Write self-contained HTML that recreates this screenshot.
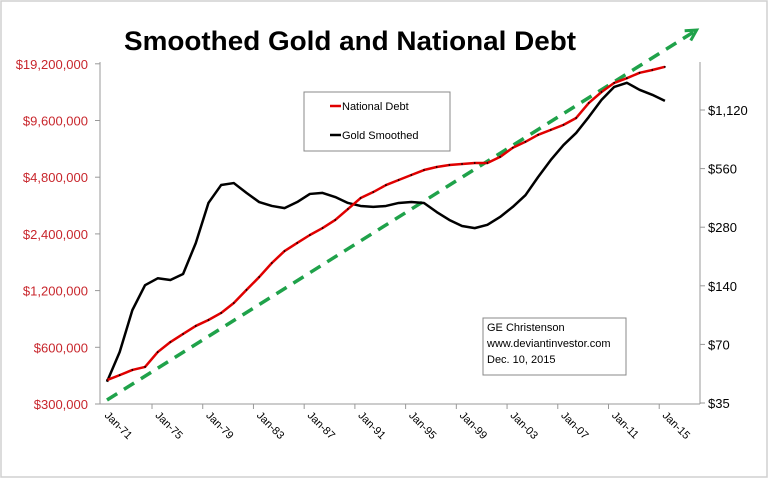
<!DOCTYPE html>
<html><head><meta charset="utf-8"><style>
html,body{margin:0;padding:0;background:#fff}
svg{display:block;font-family:"Liberation Sans",sans-serif}
</style></head><body>
<svg id="chart" width="768" height="479" viewBox="0 0 768 479" xmlns="http://www.w3.org/2000/svg">
<rect x="1" y="1" width="766" height="476" fill="#fff" stroke="#d0d0d0" stroke-width="1.5"/>
<text x="350" y="50" text-anchor="middle" font-size="27" font-weight="bold" textLength="452" lengthAdjust="spacingAndGlyphs">Smoothed Gold and National Debt</text>
<g id="axes"></g>
<g id="marks"></g>
<g>
<rect x="304" y="92" width="146" height="59" fill="#fff" stroke="#888" stroke-width="1"/>
<line x1="330" y1="106" x2="341" y2="106" stroke="#e00000" stroke-width="2.5"/>
<text x="342" y="110" font-size="11">National Debt</text>
<line x1="330" y1="135" x2="341" y2="135" stroke="#000" stroke-width="2.5"/>
<text x="342" y="139" font-size="11">Gold Smoothed</text>
</g>
<g>
<rect x="483" y="318" width="143" height="57" fill="#fff" stroke="#888" stroke-width="1"/>
<text x="487" y="331" font-size="11">GE Christenson</text>
<text x="487" y="347" font-size="11">www.deviantinvestor.com</text>
<text x="487" y="363" font-size="11">Dec. 10, 2015</text>
</g>
</svg>
<script>
const years = [];
for (let y = 1971; y <= 2015; y++) years.push(y);
const debtValues = [402000,427000,455000,472000,566000,640000,706000,779000,838000,913000,1031000,1210000,1416000,1682000,1946000,2148000,2368000,2578000,2845000,3253000,3722000,4003000,4360000,4640000,4930000,5240000,5437000,5570000,5640000,5710000,5710000,6150000,6880000,7400000,8060000,8560000,9100000,9900000,11900000,13600000,15200000,16100000,17200000,17800000,18500000];
const goldValues = [45,64,105,141,153,150,161,232,373,461,472,420,377,360,351,377,415,420,400,373,360,356,360,373,377,373,335,305,284,277,288,316,356,409,507,620,740,854,1032,1262,1472,1545,1422,1341,1248];
const trendYears = [1971, 2017.5];
const trendValues = [315000, 29000000];
const leftTicks = [300000,600000,1200000,2400000,4800000,9600000,19200000];
const leftTickLabels = ["$300,000","$600,000","$1,200,000","$2,400,000","$4,800,000","$9,600,000","$19,200,000"];
const rightTicks = [35,70,140,280,560,1120];
const rightTickLabels = ["$35","$70","$140","$280","$560","$1,120"];
const xLabelYears = [1971,1975,1979,1983,1987,1991,1995,1999,2003,2007,2011,2015];
const xLabels = ["Jan-71","Jan-75","Jan-79","Jan-83","Jan-87","Jan-91","Jan-95","Jan-99","Jan-03","Jan-07","Jan-11","Jan-15"];

const NS = "http://www.w3.org/2000/svg";
const xS = y => 107 + (y - 1971) * 12.68;
const yL = v => 404 - 56.7 * Math.log2(v / 300000);
const yR = v => 403 - 58.6 * Math.log2(v / 35);
function mk(tag, attrs, parent) {
  const e = document.createElementNS(NS, tag);
  for (const k in attrs) e.setAttribute(k, attrs[k]);
  parent.appendChild(e);
  return e;
}
const axes = document.getElementById('axes');
const marks = document.getElementById('marks');

const la = mk('line', {x1:100,y1:62,x2:100,y2:404,stroke:'#999','stroke-width':1}, axes);


const ra = mk('line', {x1:700,y1:62,x2:700,y2:404,stroke:'#999','stroke-width':1}, axes);


const xa = mk('line', {x1:100,y1:404,x2:700,y2:404,stroke:'#999','stroke-width':1}, axes);



leftTicks.forEach((v, i) => {
  const y = yL(v);
  mk('line', {x1:95,y1:y,x2:100,y2:y,stroke:'#999'}, axes);
  const t = mk('text', {x:88,y:y+5,'text-anchor':'end','font-size':13,fill:'#c8262c'}, axes);
  t.textContent = leftTickLabels[i];
  
  
});
rightTicks.forEach((v, i) => {
  const y = yR(v);
  mk('line', {x1:700,y1:y,x2:705,y2:y,stroke:'#999'}, axes);
  const t = mk('text', {x:708,y:y+5,'font-size':13,fill:'#000'}, axes);
  t.textContent = rightTickLabels[i];
  
  
});
for (let k = 0; k < 11; k++) {
  const x = xS(1974.55 + 4 * k);
  mk('line', {x1:x,y1:404,x2:x,y2:409,stroke:'#999'}, axes);
}
xLabelYears.forEach((yr, i) => {
  const x = xS(yr) - 3, y = 416;
  const t = mk('text', {x:x,y:y,'font-size':11,transform:`rotate(45 ${x} ${y})`}, axes);
  t.textContent = xLabels[i];
  
  
});

// trend arrow
const tx1 = xS(trendYears[0]), ty1 = yL(trendValues[0]);
const tx2 = xS(trendYears[1]), ty2 = yL(trendValues[1]);
const ang = Math.atan2(ty2 - ty1, tx2 - tx1);
const tr = mk('line', {x1:tx1,y1:ty1,x2:tx2 - 3*Math.cos(ang),y2:ty2 - 3*Math.sin(ang),stroke:'#1fa24a','stroke-width':3.5,'stroke-dasharray':'12 8'}, marks);


const L = 12;
const head = mk('polyline', {points:`${tx2 - L*Math.cos(ang-0.5)},${ty2 - L*Math.sin(ang-0.5)} ${tx2},${ty2} ${tx2 - L*Math.cos(ang+0.5)},${ty2 - L*Math.sin(ang+0.5)}`,fill:'none',stroke:'#1fa24a','stroke-width':3}, marks);



const gp = mk('polyline', {points: years.map((y, i) => `${xS(y)},${yR(goldValues[i])}`).join(' '), fill:'none', stroke:'#000','stroke-width':2.5,'stroke-linejoin':'round'}, marks);


const dp = mk('polyline', {points: years.map((y, i) => `${xS(y)},${yL(debtValues[i])}`).join(' '), fill:'none', stroke:'#e00000','stroke-width':2.5,'stroke-linejoin':'round'}, marks);


years.forEach((y, i) => {
  const c = mk('circle', {cx:xS(y), cy:yL(debtValues[i]), r:0.9, fill:'#000'}, marks);
  
  
});
</script>
</body></html>
